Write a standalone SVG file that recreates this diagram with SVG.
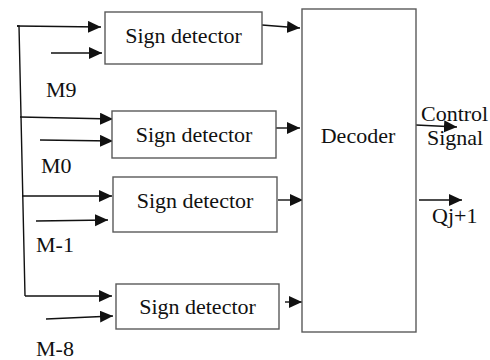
<svg xmlns="http://www.w3.org/2000/svg" width="490" height="360" viewBox="0 0 490 360">
<style>
.box{fill:#fff;stroke:#5a5a5a;stroke-width:1.4}
.w{fill:none;stroke:#111;stroke-width:1.4}
.a{fill:none;stroke:#111;stroke-width:1.4;marker-end:url(#ah)}
</style>
<defs>
<marker id="ah" markerUnits="userSpaceOnUse" markerWidth="16" markerHeight="14" refX="13" refY="6" orient="auto">
<path d="M0,0 L13,6 L0,12 Z" fill="#111"/>
</marker>
</defs>
<g id="connectors">
<polyline class="w" points="17,26 19,26 25,296"/>
<line class="a" x1="17" y1="26" x2="101" y2="27"/>
<line class="a" x1="51" y1="53" x2="102" y2="53"/>
<line class="a" x1="20" y1="117" x2="113" y2="119"/>
<line class="a" x1="40" y1="140" x2="113" y2="141"/>
<line class="a" x1="22" y1="196" x2="112" y2="196"/>
<line class="a" x1="36" y1="221" x2="108" y2="220"/>
<line class="a" x1="25" y1="296" x2="112" y2="296"/>
<line class="a" x1="46" y1="319" x2="113" y2="316"/>
<line class="a" x1="262" y1="25" x2="300" y2="28"/>
<line class="a" x1="276" y1="128" x2="300" y2="128"/>
<line class="a" x1="278" y1="200" x2="303" y2="200"/>
<line class="a" x1="285" y1="302" x2="302" y2="302"/>
<line class="a" x1="416" y1="125" x2="457" y2="127"/>
<line class="a" x1="419" y1="200" x2="462" y2="200"/>
</g>
<g font-family="'Liberation Serif', 'Times New Roman', Times, serif" font-size="22px" fill="#111">
<g id="sd1"><rect class="box" x="105" y="12" width="157" height="52"/><text text-anchor="middle" x="183.5" y="43">Sign detector</text></g>
<g id="sd2"><rect class="box" x="112" y="111" width="164" height="47"/><text text-anchor="middle" x="194" y="142">Sign detector</text></g>
<g id="sd3"><rect class="box" x="113" y="177" width="164" height="55"/><text text-anchor="middle" x="195" y="208">Sign detector</text></g>
<g id="sd4"><rect class="box" x="116" y="284" width="163" height="45"/><text text-anchor="middle" x="197.5" y="314">Sign detector</text></g>
<g id="decoder"><rect class="box" x="302" y="9" width="114" height="323"/><text text-anchor="middle" x="358" y="143">Decoder</text></g>
<g id="labels">
<text x="46" y="97">M9</text>
<text x="41" y="173">M0</text>
<text x="36" y="252">M-1</text>
<text x="36" y="356">M-8</text>
<text x="421" y="121">Control</text>
<text x="427" y="145">Signal</text>
<text x="432" y="223">Qj+1</text>
</g>
</g>
</svg>
